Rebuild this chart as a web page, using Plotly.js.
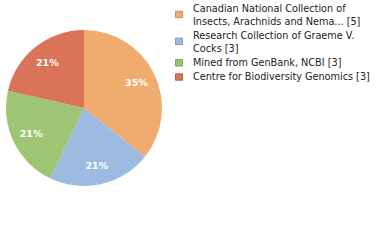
<!DOCTYPE html>
<html><head><meta charset="utf-8">
<script src="https://cdn.plot.ly/plotly-3.0.1.min.js"></script>
<style>html,body{margin:0;padding:0;background:#fff}#c{width:380px;height:240px}</style>
</head><body><div id="c"></div>
<script>
const labels = ["Canadian National Collection of<br>Insects, Arachnids and Nema... [5]",
                "Research Collection of Graeme V.<br>Cocks [3]",
                "Mined from GenBank, NCBI [3]",
                "Centre for Biodiversity Genomics [3]"];
const values = [5, 3, 3, 3];
const colors = ["#EFAC6E", "#9DBBE0", "#9DC573", "#DA7458"];
const borders = ["#C9905C", "#8299B8", "#82A35F", "#B56049"];
const total = values.reduce((a,b)=>a+b,0);
const pctText = values.map(v => Math.floor(v/total*100) + "%");

// legend built from the label arrays
const W = 380, H = 240, LINE = 12.6, GAP = 1.6;
const annotations = [], shapes = [];
let rowTop = 8.7 - LINE/2;
labels.forEach((lab, i) => {
  const nLines = lab.split("<br>").length;
  const center = rowTop + nLines*LINE/2;
  annotations.push({
    xref: "paper", yref: "paper", x: 191.5/W, y: 1 - center/H,
    xanchor: "left", yanchor: "middle", align: "left", showarrow: false,
    text: lab, borderpad: 0,
    font: {family: "DejaVu Sans", size: 9.7, color: "#222"}
  });
  const bc = center + (nLines > 1 ? -0.5 : 0.5);
  shapes.push({type: "rect", xref: "paper", yref: "paper",
    x0: 175.5/W, x1: 182.5/W, y0: 1 - (bc - 3.2)/H, y1: 1 - (bc + 3.2)/H,
    fillcolor: colors[i], line: {color: borders[i], width: 1}});
  rowTop += nLines*LINE + GAP;
});

const dom = {x: [5/380, 163/380], y: [54/240, 210/240]};
Plotly.newPlot("c", [{
  type: "pie", labels: labels, values: values,
  textinfo: "none",
  sort: false, direction: "clockwise", rotation: 0,
  marker: {colors: colors, line: {width: 0}},
  domain: dom, hoverinfo: "none"
}, {
  // transparent ring carrying the percentage labels at ~3/4 radius
  type: "pie", labels: labels, values: values, text: pctText,
  textinfo: "text", textposition: "inside", insidetextorientation: "horizontal",
  hole: 0.5, sort: false, direction: "clockwise", rotation: 0,
  marker: {colors: colors.map(() => "rgba(0,0,0,0)"), line: {width: 0}},
  textfont: {family: "DejaVu Sans", size: 9.5, weight: "bold", color: "#fff"},
  domain: dom, hoverinfo: "none"
}], {
  width: W, height: H, margin: {l:0,r:0,t:0,b:0, autoexpand: false},
  paper_bgcolor: "#fff",
  showlegend: false,
  annotations: annotations, shapes: shapes,
  font: {family: "DejaVu Sans"}
}, {staticPlot: true});
</script></body></html>
